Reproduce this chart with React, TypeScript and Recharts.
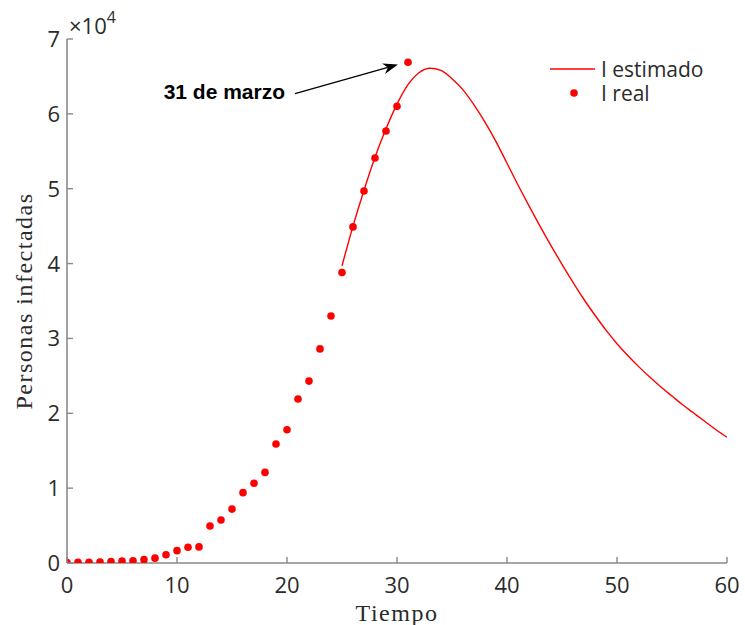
import React from 'react';
import { ComposedChart, Line, Scatter, XAxis, YAxis, ReferenceLine, Legend } from 'recharts';

// ---- data ----
const realDays = [0, 1, 2, 3, 4, 5, 6, 7, 8, 9, 10, 11, 12, 13, 14, 15, 16, 17, 18, 19, 20, 21, 22, 23, 24, 25, 26, 27, 28, 29, 30, 31];
const realInfected = [50, 80, 100, 120, 200, 260, 300, 450, 650, 1100, 1650, 2100, 2150, 4950, 5750, 7200, 9400, 10650, 12100, 15900, 17800, 21900, 24300, 28600, 33000, 38800, 44900, 49700, 54100, 57700, 61000, 66900];
const estDays = [25, 26, 27, 28, 29, 30, 31, 32, 33, 34, 35, 36, 37, 38, 39, 40, 41, 42, 43, 44, 45, 46, 47, 48, 49, 50, 51, 52, 53, 54, 55, 56, 57, 58, 59, 60];
const estInfected = [39700, 45000, 49800, 54200, 58000, 61300, 63900, 65500, 66100, 65800, 64700, 63200, 61200, 58900, 56300, 53400, 50500, 47700, 45000, 42400, 39900, 37500, 35200, 33100, 31100, 29300, 27700, 26200, 24800, 23500, 22300, 21100, 20000, 18900, 17800, 16800];
const xTicks = [0, 10, 20, 30, 40, 50, 60];
const yTicks = [0, 10000, 20000, 30000, 40000, 50000, 60000, 70000];
const seriesNames = ['I estimado', 'I real'];
const xLabel = 'Tiempo';
const yLabel = 'Personas infectadas';
const annotationText = '31 de marzo';
const arrowFrom = { x: 20.73, y: 62700 };
const arrowTo = { x: 30.09, y: 66580 };

const realData = realDays.map((d, i) => ({ x: d, y: realInfected[i] }));
const estData = estDays.map((d, i) => ({ x: d, y: estInfected[i] }));

const AXIS = '#8a8a8a';
const TXT = '#2b2b2b';
const RED = '#ff0000';
const SANS = '"Open Sans", "DejaVu Sans", sans-serif';
const SERIF = '"Liberation Serif", "Times New Roman", serif';

const XTick = (props: any) => {
  const { x, y, payload } = props;
  return (
    <g>
      <line x1={x} y1={y} x2={x} y2={y - 6} stroke={AXIS} strokeWidth={1.4} />
      <text x={x} y={y + 30} textAnchor="middle" fontFamily={SANS} fontSize={22} fill={TXT}>
        {payload.value}
      </text>
    </g>
  );
};

const YTick = (props: any) => {
  const { x, y, payload } = props;
  const isTop = payload.value === yTicks[yTicks.length - 1];
  return (
    <g>
      <line x1={x} y1={y} x2={x + 6} y2={y} stroke={AXIS} strokeWidth={1.4} />
      <text x={x - 7} y={y + 8} textAnchor="end" fontFamily={SANS} fontSize={22} fill={TXT}>
        {payload.value / 10000}
      </text>
      {isTop && (
        <text x={x + 2} y={y - 5} fontFamily={SANS} fontSize={22} fill={TXT}>
          ×10
          <tspan dy={-11} fontSize={16}>4</tspan>
        </text>
      )}
    </g>
  );
};

const RealDot = (props: any) => {
  const { cx, cy } = props;
  return <circle cx={cx} cy={cy} r={3.8} fill={RED} />;
};

const Arrow = (props: any) => {
  const { x1, y1, x2, y2 } = props;
  const ang = Math.atan2(y2 - y1, x2 - x1);
  const L = 15;
  const W = 5.5;
  const bx = x2 - L * Math.cos(ang);
  const by = y2 - L * Math.sin(ang);
  const px = -Math.sin(ang);
  const py = Math.cos(ang);
  const notchX = x2 - L * 0.7 * Math.cos(ang);
  const notchY = y2 - L * 0.7 * Math.sin(ang);
  return (
    <g>
      <line x1={x1} y1={y1} x2={notchX} y2={notchY} stroke="#000" strokeWidth={1.3} />
      <path
        d={`M${x2},${y2} L${bx + px * W},${by + py * W} L${notchX},${notchY} L${bx - px * W},${by - py * W} Z`}
        fill="#000"
      />
      <text x={x1 - 10} y={y1 + 5.5} textAnchor="end" fontFamily='"Liberation Sans", Arial, sans-serif' fontWeight="bold" fontSize={21} fill="#000">
        {annotationText}
      </text>
    </g>
  );
};

const LegendContent = () => (
  <div style={{ fontFamily: SANS, fontSize: 21, color: TXT }}>
    {seriesNames.map((name, i) => (
      <div key={name} style={{ display: 'flex', alignItems: 'center', height: 24, lineHeight: '22px' }}>
        <svg width={53} height={24} style={{ display: 'block' }}>
          {i === 0 ? (
            <line x1={2} y1={12} x2={47} y2={12} stroke={RED} strokeWidth={1.4} />
          ) : (
            <circle cx={26} cy={12} r={3.8} fill={RED} />
          )}
        </svg>
        <span style={{ whiteSpace: 'nowrap' }}>{name}</span>
      </div>
    ))}
  </div>
);

export default function App() {
  return (
    <div style={{ position: 'absolute', left: 0, top: 0, width: 745, height: 625, background: '#fff' }}>
      <ComposedChart width={745} height={625} margin={{ top: 39, right: 18, bottom: 0, left: 0 }}>
        <XAxis
          type="number"
          dataKey="x"
          domain={[0, 60]}
          ticks={xTicks}
          interval={0}
          height={62}
          tickSize={0}
          tickMargin={0}
          tickLine={false}
          tick={<XTick />}
          axisLine={{ stroke: AXIS, strokeWidth: 1.6 }}
          allowDataOverflow
        />
        <YAxis
          type="number"
          dataKey="y"
          domain={[0, 70000]}
          ticks={yTicks}
          interval={0}
          width={67}
          tickSize={0}
          tickMargin={0}
          tickLine={false}
          tick={<YTick />}
          axisLine={{ stroke: AXIS, strokeWidth: 1.6 }}
          allowDataOverflow
        />
        <Legend
          layout="vertical"
          align="center"
          verticalAlign="middle"
          content={<LegendContent />}
          wrapperStyle={{ position: 'absolute', left: 548, top: 57, width: 190, height: 50, margin: 0 }}
        />
        <Line
          data={estData}
          dataKey="y"
          name={seriesNames[0]}
          type="monotone"
          stroke={RED}
          strokeWidth={1.4}
          dot={false}
          activeDot={false}
          isAnimationActive={false}
        />
        <Scatter data={realData} dataKey="y" name={seriesNames[1]} shape={<RealDot />} isAnimationActive={false} />
        <ReferenceLine segment={[arrowFrom, arrowTo]} shape={<Arrow />} ifOverflow="visible" />
        <text x={397} y={621} textAnchor="middle" fontFamily={SERIF} fontSize={24} letterSpacing={1.5} fill={TXT}>
          {xLabel}
        </text>
        <text
          x={32}
          y={301}
          transform="rotate(-90, 32, 301)"
          textAnchor="middle"
          fontFamily={SERIF}
          fontSize={24}
          letterSpacing={1.5}
          fill={TXT}
        >
          {yLabel}
        </text>
      </ComposedChart>
    </div>
  );
}
